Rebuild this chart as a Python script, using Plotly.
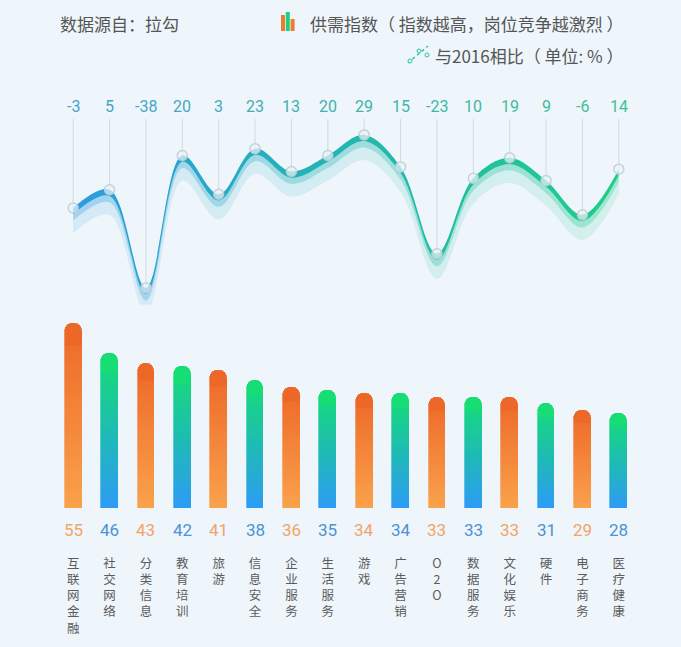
import plotly.graph_objects as go

# ---------------- data ----------------
categories = ["互联网金融", "社交网络", "分类信息", "教育培训", "旅游", "信息安全", "企业服务", "生活服务",
              "游戏", "广告营销", "O2O", "数据服务", "文化娱乐", "硬件", "电子商务", "医疗健康"]
supply_index = [55, 46, 43, 42, 41, 38, 36, 35, 34, 34, 33, 33, 33, 31, 29, 28]
change_vs_2016 = [-3, 5, -38, 20, 3, 23, 13, 20, 29, 15, -23, 10, 19, 9, -6, 14]

# ---------------- helpers ----------------
def lerp(c1, c2, t):
    return tuple(round(a + (b - a) * t) for a, b in zip(c1, c2))

def rgb(c, a=None):
    if a is None:
        return "rgb(%d,%d,%d)" % c
    return "rgba(%d,%d,%d,%.3f)" % (c + (a,))

ORANGE_TOP, ORANGE_BOT = (237, 104, 40), (250, 162, 76)
GB_TOP, GB_MID, GB_BOT = (22, 221, 116), (30, 188, 178), (46, 155, 246)

def bar_color(i, t):  # t: 0 bottom -> 1 top
    if i % 2 == 0:
        return lerp(ORANGE_BOT, ORANGE_TOP, t)
    if t < 0.5:
        return lerp(GB_BOT, GB_MID, t / 0.5)
    return lerp(GB_MID, GB_TOP, (t - 0.5) / 0.5)

BG = "#eef5fb"
FONT_CJK = "Noto Sans CJK SC, Noto Sans, sans-serif"
FONT_NUM = "Roboto, Liberation Sans, sans-serif"

fig = go.Figure()

# ---------------- gradient bars (stacked slices) ----------------
N = 26
TOP_FRAC = 0.12
body_frac = (1 - TOP_FRAC) / N
for k in range(N + 1):
    if k < N:
        frac = body_frac
        t = (k + 0.5) * body_frac
    else:
        frac = TOP_FRAC
        t = 1.0
    cols = [rgb(bar_color(i, t)) for i in range(len(categories))]
    marker = dict(color=cols, line=dict(color=cols, width=0.7))
    if k == N:
        marker["cornerradius"] = 8
    fig.add_trace(go.Bar(
        x=categories, y=[v * frac for v in supply_index], width=0.46,
        marker=marker, yaxis="y", xaxis="x", showlegend=False, hoverinfo="skip",
    ))

# ---------------- ribbon line (change vs 2016) ----------------
BLUE, TEAL, GREEN = (44, 156, 224), (34, 182, 176), (30, 206, 136)

def gscale(a):
    return [[0, rgb(BLUE, a)], [0.5, rgb(TEAL, a)], [1, rgb(GREEN, a)]]

for offset, alpha in [(11, 0.13), (5.5, 0.30), (2.7, 1.0)]:
    fig.add_trace(go.Scatter(
        x=categories, y=[v - offset for v in change_vs_2016], mode="lines",
        line=dict(width=0, shape="spline", smoothing=1.0), yaxis="y2",
        showlegend=False, hoverinfo="skip",
    ))
    fig.add_trace(go.Scatter(
        x=categories, y=change_vs_2016, mode="lines",
        line=dict(width=0, shape="spline", smoothing=1.0), yaxis="y2",
        fill="tonexty", fillgradient=dict(type="horizontal", colorscale=gscale(alpha)),
        showlegend=False, hoverinfo="skip",
    ))

fig.add_trace(go.Scatter(
    x=categories, y=change_vs_2016, mode="markers", yaxis="y2",
    marker=dict(size=10, color="rgba(236,244,249,0.7)",
                line=dict(color="rgba(190,206,216,0.9)", width=1.5)),
    showlegend=False, hoverinfo="skip",
))

# thin guide lines from labels to points
Y2_MIN, Y2_MAX = -45.4, 88.1
for c, v in zip(categories, change_vs_2016):
    fig.add_shape(type="line", xref="x", yref="y2", x0=c, x1=c, y0=v, y1=36.0,
                  line=dict(color="rgba(185,198,210,0.55)", width=1), layer="below")

# ---------------- annotations ----------------
ann = []
n = len(categories)
LBL_L, LBL_R = (74, 160, 204), (58, 196, 144)
for i, (c, v) in enumerate(zip(categories, change_vs_2016)):
    ann.append(dict(x=c, xref="x", y=1 - 107 / 508, yref="paper", yanchor="middle",
                    text=str(v), showarrow=False,
                    font=dict(family=FONT_NUM, size=16, color=rgb(lerp(LBL_L, LBL_R, i / (n - 1))))))
for i, (c, v) in enumerate(zip(categories, supply_index)):
    col = "#f2a466" if i % 2 == 0 else "#4a93d4"
    ann.append(dict(x=c, xref="x", y=0, yref="y", yshift=-22, yanchor="middle",
                    text=str(v), showarrow=False,
                    font=dict(family=FONT_NUM, size=17, color=col)))

HDR = dict(family=FONT_CJK, size=17, color="#555555")
ann.append(dict(x=(58 - 55) / 582, xref="paper", y=1 - 23 / 508, yref="paper", xanchor="left",
                yanchor="middle", text="数据源自：拉勾", showarrow=False, font=HDR))
ann.append(dict(x=(626 - 55) / 582, xref="paper", y=1 - 23 / 508, yref="paper", xanchor="right",
                yanchor="middle", text="供需指数（ 指数越高，岗位竞争越激烈 ）", showarrow=False, font=HDR))
ann.append(dict(x=(626 - 55) / 582, xref="paper", y=1 - 55 / 508, yref="paper", xanchor="right",
                yanchor="middle", text="与2016相比（ 单位: % ）", showarrow=False, font=HDR))

# legend icons (decorative)
def px_x(p):
    return (p - 55) / 582

def px_y(p):
    return 1 - p / 508

for (x0, x1, ytop, col) in [(281, 285, 15, "#f07a30"), (285.8, 289.8, 12, "#1ed27c"),
                            (290.6, 294.6, 19, "#f07a30")]:
    fig.add_shape(type="rect", xref="paper", yref="paper", x0=px_x(x0), x1=px_x(x1),
                  y0=px_y(31), y1=px_y(ytop), fillcolor=col, line=dict(width=0))
fig.add_shape(type="line", xref="paper", yref="paper", x0=px_x(408), x1=px_x(428),
              y0=px_y(63), y1=px_y(46), line=dict(color="#2bc7a0", width=1.5, dash="dot"))
for (cx, cy) in [(410, 61), (419, 51), (427, 55)]:
    fig.add_shape(type="circle", xref="paper", yref="paper", x0=px_x(cx - 2), x1=px_x(cx + 2),
                  y0=px_y(cy + 2), y1=px_y(cy - 2), line=dict(color="#2bc7a0", width=1),
                  fillcolor=BG)

ticktext = ["<br>".join(list(c)) for c in categories]

fig.update_layout(
    width=681, height=647,
    margin=dict(l=55, r=44, t=0, b=139),
    paper_bgcolor=BG, plot_bgcolor=BG,
    barmode="stack", bargap=0,
    annotations=ann,
    xaxis=dict(type="category", range=[-0.5, 15.5], tickvals=categories, ticktext=ticktext,
               showgrid=False, zeroline=False, showline=False, ticks="",
               tickfont=dict(family=FONT_CJK, size=12.5, color="#5c5c5c"),
               ticklabelstandoff=46, automargin=False, anchor="y", fixedrange=True),
    yaxis=dict(domain=[0, 0.45], range=[0, 68], visible=False, fixedrange=True),
    yaxis2=dict(domain=[0.40, 1.0], range=[Y2_MIN, Y2_MAX], visible=False, anchor="x",
                fixedrange=True),
    showlegend=False,
)

fig.write_html("out.html", config={"displayModeBar": False},
               post_script="document.body.style.margin='0';document.body.style.background='%s';" % BG)
